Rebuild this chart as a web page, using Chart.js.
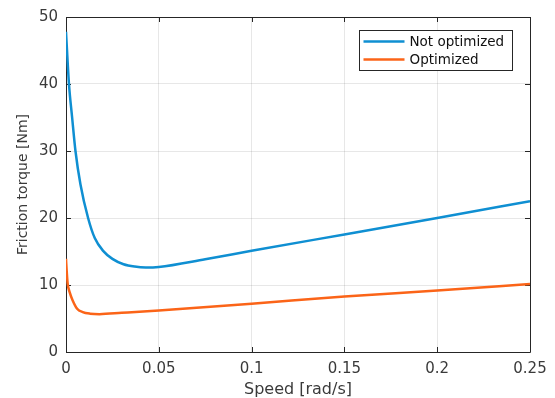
<!DOCTYPE html>
<html>
<head>
<meta charset="utf-8">
<script src="https://cdn.jsdelivr.net/npm/chart.js@4.4.0/dist/chart.umd.min.js"></script>
<style>
  html, body { margin: 0; padding: 0; background: #fff; }
  canvas { display: block; }
</style>
</head>
<body>
<canvas id="frictionChart" width="555" height="398"></canvas>
<script>
// Not optimized friction curve
const speedNotOpt = [0, 0.0016, 0.0033, 0.0051, 0.0078, 0.0119, 0.0155, 0.020, 0.025, 0.031, 0.037, 0.043, 0.05, 0.075, 0.1, 0.15, 0.2, 0.25];
const torqueNotOpt = [47.8, 40, 35, 30, 25, 20, 17, 15.1, 13.9, 13.1, 12.75, 12.62, 12.7, 13.85, 15.1, 17.55, 20, 22.5];

// Optimized friction curve
const speedOpt = [0, 0.0004, 0.0009, 0.002, 0.0036, 0.006, 0.009, 0.013, 0.018, 0.03, 0.05, 0.1, 0.15, 0.2, 0.25];
const torqueOpt = [13.9, 12.0, 10.2, 8.9, 7.7, 6.46, 5.96, 5.72, 5.65, 5.85, 6.2, 7.2, 8.28, 9.17, 10.16];

const seriesLabels = ["Not optimized", "Optimized"];
const seriesColors = ["#0f8fd2", "#fb6418"];

const xTicks = [0, 0.05, 0.1, 0.15, 0.2, 0.25];
const yTicks = [0, 10, 20, 30, 40, 50];

const toPoints = (xs, ys) => xs.map((x, i) => ({ x: x, y: ys[i] }));

const axisColor = "#262626";
const textColor = "#3a3a3a";
const fontFamily = "'DejaVu Sans', sans-serif";

// MATLAB style box with inward ticks
const boxPlugin = {
  id: "box",
  beforeDatasetsDraw(chart) {
    const { ctx, chartArea: a, scales } = chart;
    ctx.save();
    ctx.strokeStyle = axisColor;
    ctx.lineWidth = 1;
    ctx.beginPath();
    ctx.rect(Math.round(a.left) + 0.5, Math.round(a.top) + 0.5, Math.round(a.right - a.left), Math.round(a.bottom - a.top));
    ctx.stroke();
    const len = 5;
    ctx.beginPath();
    xTicks.forEach(v => {
      const px = Math.round(scales.x.getPixelForValue(v)) + 0.5;
      ctx.moveTo(px, a.bottom); ctx.lineTo(px, a.bottom - len);
      ctx.moveTo(px, a.top); ctx.lineTo(px, a.top + len);
    });
    yTicks.forEach(v => {
      const py = Math.round(scales.y.getPixelForValue(v)) + 0.5;
      ctx.moveTo(a.left, py); ctx.lineTo(a.left + len, py);
      ctx.moveTo(a.right, py); ctx.lineTo(a.right - len, py);
    });
    ctx.stroke();
    ctx.restore();
  },
  afterDraw(chart) {
    // legend box in upper right corner
    const { ctx } = chart;
    const bx = 359.5, by = 30.5, bw = 153, bh = 40;
    ctx.save();
    ctx.fillStyle = "#fff";
    ctx.fillRect(bx, by, bw, bh);
    ctx.strokeStyle = axisColor;
    ctx.lineWidth = 1;
    ctx.strokeRect(bx, by, bw, bh);
    ctx.font = "13.5px " + fontFamily;
    ctx.textBaseline = "middle";
    ctx.fillStyle = "#111";
    chart.data.datasets.forEach((ds, i) => {
      const ly = by + 11 + i * 18;
      ctx.strokeStyle = ds.borderColor;
      ctx.lineWidth = 2.5;
      ctx.beginPath();
      ctx.moveTo(bx + 4, ly);
      ctx.lineTo(bx + 45, ly);
      ctx.stroke();
      ctx.fillText(ds.label, bx + 50, ly + 0.5);
    });
    ctx.restore();
  }
};

const ctxFriction = document.getElementById("frictionChart").getContext("2d");
const frictionChart = new Chart(ctxFriction, {
  type: "line",
  data: {
    datasets: [
      {
        label: seriesLabels[0],
        data: toPoints(speedNotOpt, torqueNotOpt),
        borderColor: seriesColors[0],
        borderWidth: 2.5,
        pointRadius: 0,
        fill: false,
        cubicInterpolationMode: "monotone",
      },
      {
        label: seriesLabels[1],
        data: toPoints(speedOpt, torqueOpt),
        borderColor: seriesColors[1],
        borderWidth: 2.5,
        pointRadius: 0,
        fill: false,
        cubicInterpolationMode: "monotone",
      },
    ],
  },
  options: {
    responsive: false,
    animation: false,
    devicePixelRatio: 1,
    layout: { padding: { left: 0, right: 25, top: 15, bottom: 0 } },
    scales: {
      x: {
        type: "linear",
        min: 0,
        max: 0.25,
        afterBuildTicks: (scale) => { scale.ticks = xTicks.map(v => ({ value: v })); },
        afterFit: (scale) => { scale.height = 46; },
        grid: { color: "rgba(38,38,38,0.11)", drawTicks: false },
        border: { display: false },
        ticks: {
          color: textColor,
          padding: 8,
          maxRotation: 0,
          font: { family: fontFamily, size: 15 },
          callback: (v) => String(Math.round(v * 100) / 100),
        },
        title: {
          display: true,
          text: "Speed [rad/s]",
          color: textColor,
          padding: { top: 0, bottom: 0 },
          font: { family: fontFamily, size: 16, lineHeight: 1 },
        },
      },
      y: {
        type: "linear",
        min: 0,
        max: 50,
        afterBuildTicks: (scale) => { scale.ticks = yTicks.map(v => ({ value: v })); },
        afterFit: (scale) => { scale.width = 66; },
        grid: { color: "rgba(38,38,38,0.11)", drawTicks: false },
        border: { display: false },
        ticks: {
          color: textColor,
          padding: 8,
          font: { family: fontFamily, size: 15 },
        },
        title: {
          display: true,
          text: "Friction torque [Nm]",
          color: textColor,
          padding: { top: 16, bottom: 0 },
          font: { family: fontFamily, size: 14, lineHeight: 1 },
        },
      },
    },
    plugins: {
      legend: { display: false },
      tooltip: { enabled: false },
    },
  },
  plugins: [boxPlugin],
});
</script>
</body>
</html>
